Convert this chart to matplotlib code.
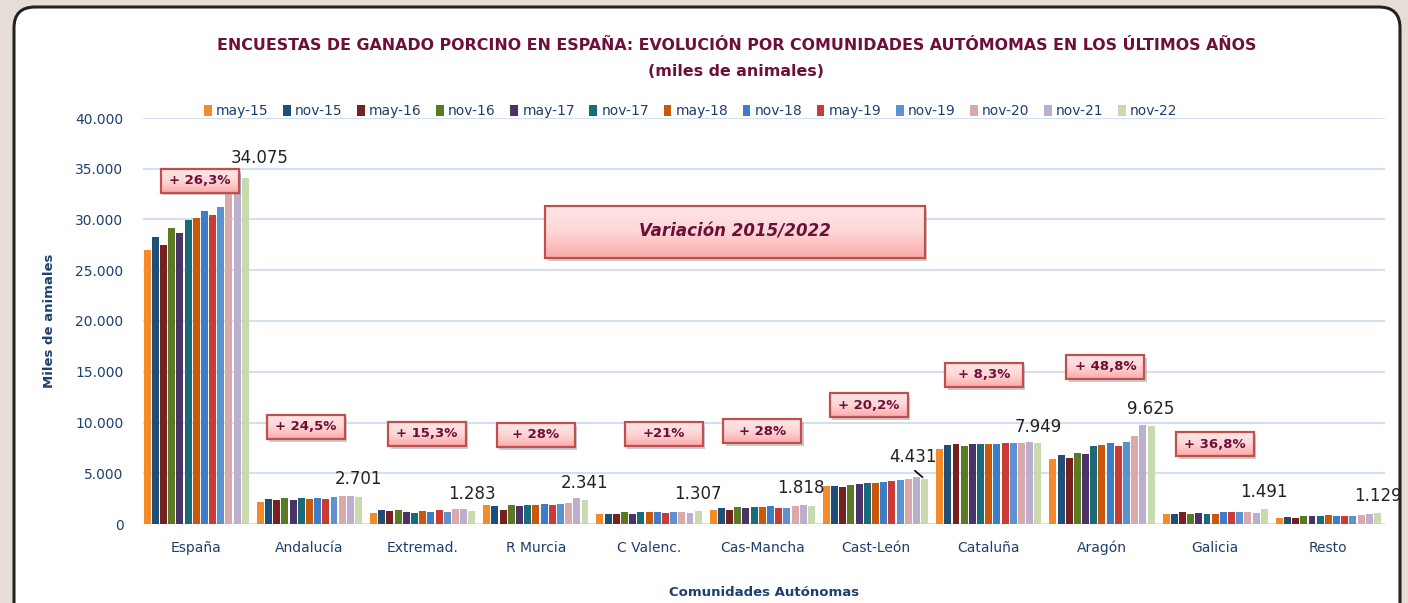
import numpy as np
import matplotlib
matplotlib.use('Agg')
import matplotlib.pyplot as plt
from matplotlib.patches import FancyBboxPatch, Rectangle
from matplotlib.colors import LinearSegmentedColormap
from matplotlib.ticker import FuncFormatter

comunidades = ['España', 'Andalucía', 'Extremad.', 'R Murcia', 'C Valenc.', 'Cas-Mancha',
               'Cast-León', 'Cataluña', 'Aragón', 'Galicia', 'Resto']
periodos = ['may-15', 'nov-15', 'may-16', 'nov-16', 'may-17', 'nov-17', 'may-18',
            'nov-18', 'may-19', 'nov-19', 'nov-20', 'nov-21', 'nov-22']

# miles de animales, una lista por periodo (orden de comunidades)
may15 = [27000, 2170, 1070, 1830, 1030, 1400, 3730, 7400, 6370, 980, 620]
nov15 = [28300, 2470, 1400, 1770, 1030, 1570, 3730, 7770, 6800, 980, 720]
may16 = [27500, 2330, 1300, 1400, 1030, 1400, 3630, 7930, 6470, 1140, 620]
nov16 = [29200, 2600, 1400, 1830, 1170, 1670, 3870, 7670, 6960, 980, 820]
may17 = [28700, 2370, 1230, 1770, 1030, 1570, 3970, 7870, 6860, 1080, 820]
nov17 = [29950, 2600, 1130, 1830, 1170, 1670, 4070, 7870, 7650, 980, 820]
may18 = [30100, 2470, 1300, 1900, 1170, 1670, 4070, 7870, 7810, 980, 880]
nov18 = [30800, 2600, 1230, 2000, 1170, 1770, 4170, 7870, 7970, 1140, 820]
may19 = [30400, 2470, 1400, 1900, 1070, 1570, 4230, 8000, 7710, 1140, 820]
nov19 = [31200, 2700, 1230, 2000, 1170, 1570, 4330, 8000, 8070, 1200, 820]
nov20 = [32700, 2800, 1500, 2100, 1230, 1770, 4430, 8000, 8660, 1200, 880]
nov21 = [34450, 2800, 1500, 2530, 1070, 1830, 4600, 8100, 9740, 1080, 980]
nov22 = [34075, 2701, 1283, 2341, 1307, 1818, 4431, 7949, 9625, 1491, 1129]
series = [may15, nov15, may16, nov16, may17, nov17, may18, nov18, may19, nov19, nov20, nov21, nov22]

variaciones = ['+ 26,3%', '+ 24,5%', '+ 15,3%', '+ 28%', '+21%', '+ 28%',
               '+ 20,2%', '+ 8,3%', '+ 48,8%', '+ 36,8%']
# posicion de cada cuadro (x en categorias, y en miles)
var_x = [0.03, 0.97, 2.04, 3.0, 4.13, 5.0, 5.94, 6.96, 8.03, 9.0]
var_y = [33800, 9560, 8870, 8770, 8870, 9160, 11720, 14680, 15470, 7880]

colores = ['#F58A2A', '#1F4E79', '#772020', '#5A7A23', '#4A3366', '#1A6B7A', '#C9580A',
           '#3D7CC9', '#CB3B36', '#5E91D1', '#DBA9A9', '#BBAFCD', '#C8DAAE']

# desplazamiento de las etiquetas del ultimo periodo (pixeles)
etq_dx = [14, 0, 0, 0, 0, -11, -12, 0, 0, 0, 0]
etq_dy = [20, 18, 17, 17, 17, 18, 22, 16, 17, 17, 17]

azul = '#1F3F6E'
granate = '#6E0F3A'

fig = plt.figure(figsize=(14.08, 6.03), dpi=100)
fig.patch.set_facecolor('#E6DDD6')
marco = FancyBboxPatch((14 / 1408, -0.05), 1386 / 1408, 1.05 - 7 / 603,
                       boxstyle='round,pad=0,rounding_size=0.015', transform=fig.transFigure,
                       facecolor='white', edgecolor='#222222', linewidth=2.2, mutation_aspect=2.3,
                       zorder=-10)
fig.patches.append(marco)

ax = fig.add_axes([143 / 1408, 1 - 524 / 603, (1385 - 143) / 1408, (524 - 118) / 603])
ax.set_facecolor('none')

n = len(series)
paso = 0.94 / n
x = np.arange(len(comunidades))
for i, (vals, col, lab) in enumerate(zip(series, colores, periodos)):
    pos = x - 0.47 + paso * (i + 0.5)
    ax.bar(pos, vals, width=paso * 0.85, color=col, label=lab, zorder=3)

ultimo = x - 0.47 + paso * (n - 0.5)
for xi, v, dx, dy in zip(ultimo, nov22, etq_dx, etq_dy):
    t = f'{v:,}'.replace(',', '.')
    ax.annotate(t, (xi, v), xytext=(dx, dy), textcoords='offset pixels',
                ha='center', va='center', fontsize=12, color='#222222', zorder=6)
# linea guia de Cast-León
ax.annotate('', (ultimo[6], nov22[6]), xytext=(ultimo[6] - 0.105, nov22[6] + 1000),
            arrowprops=dict(arrowstyle='-', color='black', lw=1.2), zorder=6)

ax.set_xlim(-0.47, 10.5)
ax.set_ylim(0, 40000)
ax.set_yticks(np.arange(0, 40001, 5000))
ax.yaxis.set_major_formatter(FuncFormatter(lambda v, p: f'{int(v):,}'.replace(',', '.')))
ax.set_xticks(x)
ax.set_xticklabels(comunidades)
ax.tick_params(length=0, labelsize=10, colors=azul, pad=12)
ax.tick_params(axis='y', pad=14)
ax.grid(axis='y', color='#D3E0F0', linewidth=1.5, zorder=0)
for s in ax.spines.values():
    s.set_visible(False)

ax.set_ylabel('Miles de animales', fontsize=9.5, fontweight='bold', color=azul, labelpad=14)
ax.set_xlabel('Comunidades Autónomas', fontsize=9.5, fontweight='bold', color=azul, labelpad=22)

leg = ax.legend(loc='center', bbox_to_anchor=(0.441, 1.017), ncol=13, frameon=False,
                handlelength=0.55, handleheight=0.9, handletextpad=0.3, columnspacing=1.05,
                fontsize=10)
for t in leg.get_texts():
    t.set_color(azul)

fig.text(0.523, 1 - 45 / 603, 'ENCUESTAS DE GANADO PORCINO EN ESPAÑA: EVOLUCIÓN POR COMUNIDADES AUTÓMOMAS EN LOS ÚLTIMOS AÑOS',
         ha='center', va='center', fontsize=11.4, fontweight='bold', color=granate)
fig.text(0.523, 1 - 72 / 603, '(miles de animales)', ha='center', va='center',
         fontsize=11.4, fontweight='bold', color=granate)

rosa = LinearSegmentedColormap.from_list('rosa', ['#FBAAAA', '#FDD6D6', '#FFE6E6'])
grad = np.linspace(0, 1, 64).reshape(-1, 1)


def caja(xc, yc, w_px, h_px, texto, size, estilo='normal'):
    w = w_px / 113.4
    h = h_px / 10.15 * 1000
    x0, y0 = xc - w / 2, yc - h / 2
    ax.add_patch(Rectangle((x0 + 0.02, y0 - 250), w, h, facecolor='#9A9A9A', alpha=0.5,
                           edgecolor='none', zorder=7))
    ax.imshow(grad, extent=[x0, x0 + w, y0, y0 + h], origin='lower', aspect='auto',
              cmap=rosa, zorder=8)
    ax.add_patch(Rectangle((x0, y0), w, h, facecolor='none', edgecolor='#C0504D',
                           linewidth=1.6, zorder=9))
    ax.text(xc, yc, texto, ha='center', va='center', fontsize=size, fontweight='bold',
            fontstyle=estilo, color=granate, zorder=10)


for vx, vy, vt in zip(var_x, var_y, variaciones):
    caja(vx, vy, 78, 24, vt, 9.5)
caja(4.76, 28770, 380, 52, 'Variación 2015/2022', 12, 'italic')

ax.set_xlim(-0.47, 10.5)
ax.set_ylim(0, 40000)

fig.savefig('out.png', dpi=100, facecolor=fig.get_facecolor())
